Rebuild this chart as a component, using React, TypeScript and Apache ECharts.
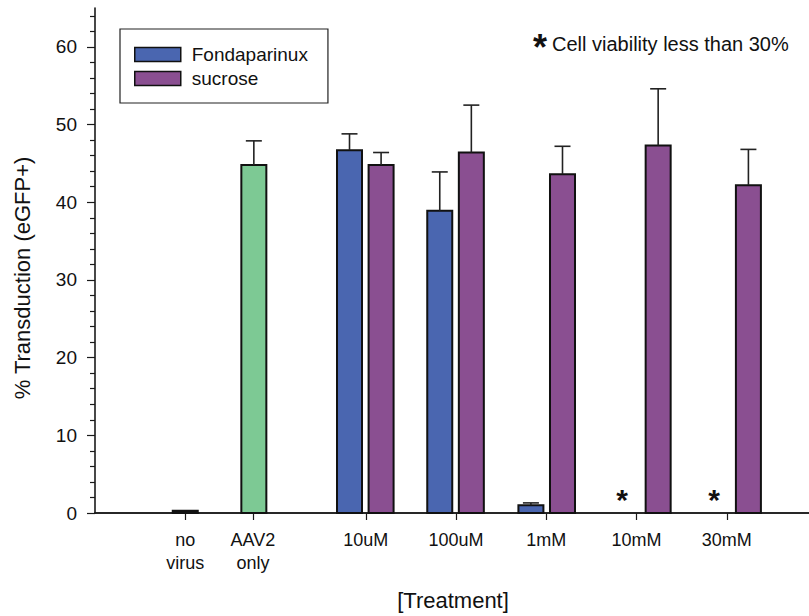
import React, { useEffect, useRef } from "react";
import * as echarts from "echarts";

// ---- data ----
const categories = ["no\nvirus", "AAV2\nonly", "10uM", "100uM", "1mM", "10mM", "30mM"];
const categoryPos = [1, 1.75, 3, 4, 5, 6, 7];

const noVirusX = [1];
const noVirusValues = [0.3];
const noVirusErr = [0];

const aavX = [1.76];
const aavValues = [44.8];
const aavErr = [3.1];

const fondaX = [2.82, 3.82, 4.83, 5.84, 6.86];
const fondaValues: (number | null)[] = [46.7, 38.9, 1.0, null, null];
const fondaErr: (number | null)[] = [2.1, 5.0, 0.3, null, null];

const sucroseX = [3.17, 4.17, 5.18, 6.24, 7.24];
const sucroseValues = [44.8, 46.4, 43.6, 47.3, 42.2];
const sucroseErr = [1.6, 6.1, 3.6, 7.3, 4.6];

// low cell viability markers (Fondaparinux at 10mM, 30mM)
const lowViability = [false, false, false, true, true];

const yMajorTicks = [0, 10, 20, 30, 40, 50, 60];
const yMinorTicks = [2, 4, 6, 8, 12, 14, 16, 18, 22, 24, 26, 28, 32, 34, 36, 38, 42, 44, 46, 48, 52, 54, 56, 58, 62, 64];

const BLUE = "#4a66b0";
const PURPLE = "#8a4f91";
const GREEN = "#7dc994";
const DARK = "#1a1a1a";
const FONT = "'Liberation Sans', Arial, sans-serif";
const BAR_W = 25;
const CAP = 16;

function barSeries(name: string, xs: number[], vals: (number | null)[], errs: (number | null)[], color: string) {
  const data: number[][] = [];
  xs.forEach((x, i) => {
    if (vals[i] != null) data.push([x, vals[i] as number, (errs[i] ?? 0) as number]);
  });
  return {
    type: "custom",
    name,
    itemStyle: { color },
    data,
    encode: { x: 0, y: 1 },
    renderItem: (params: any, api: any) => {
      const x = api.value(0);
      const v = api.value(1);
      const e = api.value(2);
      const base = api.coord([x, 0]);
      const top = api.coord([x, v]);
      const children: any[] = [
        {
          type: "rect",
          shape: { x: base[0] - BAR_W / 2, y: top[1], width: BAR_W, height: base[1] - top[1] },
          style: { fill: color, stroke: "#111", lineWidth: 2 },
        },
      ];
      if (e > 0) {
        const et = api.coord([x, v + e]);
        children.push(
          { type: "line", shape: { x1: top[0], y1: top[1], x2: top[0], y2: et[1] }, style: { stroke: "#222", lineWidth: 1.6 } },
          { type: "line", shape: { x1: top[0] - CAP / 2, y1: et[1], x2: top[0] + CAP / 2, y2: et[1] }, style: { stroke: "#222", lineWidth: 1.6 } }
        );
      }
      return { type: "group", children };
    },
  };
}

export default function App() {
  const ref = useRef<HTMLDivElement>(null);
  useEffect(() => {
    if (!ref.current) return;
    const chart = echarts.init(ref.current, undefined, { renderer: "svg" });
    const xMax = 714 / 90.25;
    const starData = fondaX.filter((_, i) => lowViability[i]).map((x) => [x, 0]);
    chart.setOption({
      animation: false,
      backgroundColor: "#ffffff",
      grid: { left: 95, top: 8, right: 0, bottom: 103 },
      legend: {
        orient: "vertical",
        left: 120,
        top: 29,
        padding: [16, 20, 15, 14],
        itemWidth: 46,
        itemHeight: 14,
        itemGap: 5,
        icon: "rect",
        borderColor: "#222",
        borderWidth: 1.2,
        itemStyle: { borderColor: "#111", borderWidth: 1.5 },
        textStyle: { fontFamily: FONT, fontSize: 19, color: "#111", padding: [0, 0, 0, 6] },
        data: ["Fondaparinux", "sucrose"],
      },
      xAxis: [
        {
          type: "value",
          min: 0,
          max: xMax,
          splitLine: { show: false },
          axisLine: { show: true, lineStyle: { color: DARK, width: 1.6 } },
          axisTick: { show: true, customValues: categoryPos, length: 7, lineStyle: { color: DARK, width: 1.2 } },
          axisLabel: {
            customValues: categoryPos,
            fontFamily: FONT,
            fontSize: 18,
            lineHeight: 23,
            color: "#111",
            margin: 15,
            formatter: (val: number) => {
              const i = categoryPos.findIndex((p) => Math.abs(p - val) < 1e-6);
              return i >= 0 ? categories[i] : "";
            },
          },
        },
        {
          type: "value",
          position: "top",
          min: 0,
          max: xMax,
          splitLine: { show: false },
          axisLine: { show: true, lineStyle: { color: DARK, width: 1.6 } },
          axisTick: { show: false },
          axisLabel: { show: false },
        },
      ],
      yAxis: [
        {
          type: "value",
          min: 0,
          max: 65,
          interval: 5,
          splitLine: { show: false },
          axisLine: { show: true, lineStyle: { color: DARK, width: 1.6 } },
          axisTick: { show: true, customValues: yMajorTicks, length: 8, lineStyle: { color: DARK, width: 1.2 } },
          axisLabel: { customValues: yMajorTicks, fontFamily: FONT, fontSize: 19, color: "#111", margin: 18 },
        },
        {
          type: "value",
          position: "left",
          min: 0,
          max: 65,
          interval: 1,
          splitLine: { show: false },
          axisLine: { show: false },
          axisTick: { show: true, customValues: yMinorTicks, length: 5, lineStyle: { color: DARK, width: 1.2 } },
          axisLabel: { show: false },
        },
      ],
      graphic: [
        {
          type: "text",
          x: 22,
          y: 278,
          rotation: Math.PI / 2,
          style: { text: "% Transduction (eGFP+)", fontFamily: FONT, fontSize: 22, fill: "#111", align: "center", verticalAlign: "middle" },
        },
        {
          type: "text",
          x: 453,
          y: 600,
          style: { text: "[Treatment]", fontFamily: FONT, fontSize: 22, fill: "#111", align: "center", verticalAlign: "middle" },
        },
        {
          type: "text",
          x: 540,
          y: 47,
          style: { text: "*", fontFamily: FONT, fontSize: 36, fontWeight: "bold", fill: "#111", align: "center", verticalAlign: "middle" },
        },
        {
          type: "text",
          x: 552,
          y: 44,
          style: { text: "Cell viability less than 30%", fontFamily: FONT, fontSize: 20, fill: "#111", align: "left", verticalAlign: "middle" },
        },
      ],
      series: [
        barSeries("no virus", noVirusX, noVirusValues, noVirusErr, "#111111"),
        barSeries("AAV2 only", aavX, aavValues, aavErr, GREEN),
        barSeries("Fondaparinux", fondaX, fondaValues, fondaErr, BLUE),
        barSeries("sucrose", sucroseX, sucroseValues, sucroseErr, PURPLE),
        {
          type: "custom",
          name: "low viability",
          data: starData,
          encode: { x: 0, y: 1 },
          renderItem: (params: any, api: any) => {
            const p = api.coord([api.value(0), api.value(1)]);
            return {
              type: "text",
              x: p[0],
              y: p[1] - 14,
              style: { text: "*", fontFamily: FONT, fontSize: 30, fontWeight: "bold", fill: "#111", align: "center", verticalAlign: "middle" },
            };
          },
        },
      ],
    });
    return () => chart.dispose();
  }, []);
  return <div ref={ref} style={{ position: "absolute", left: 0, top: 0, width: 809, height: 616 }} />;
}
